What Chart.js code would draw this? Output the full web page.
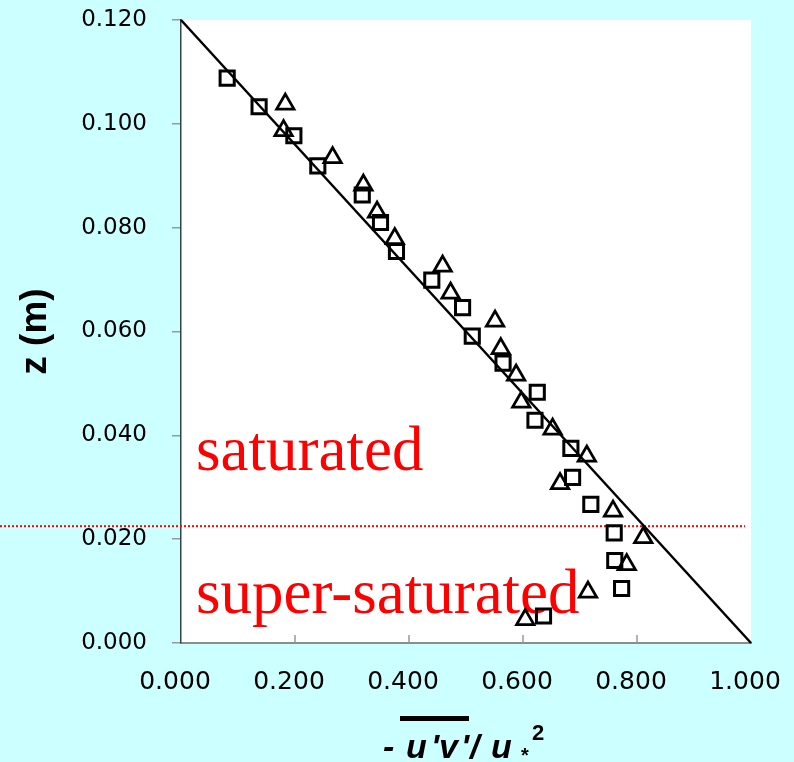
<!DOCTYPE html>
<html>
<head>
<meta charset="utf-8">
<script src="https://cdn.jsdelivr.net/npm/chart.js@4.4.1/dist/chart.umd.min.js"></script>
<style>
  body { margin: 0; background: #ccffff; }
  #wrap { width: 794px; height: 762px; position: relative; }
</style>
</head>
<body>
<div id="wrap"><canvas id="stress-chart"></canvas></div>
<script>
// squares
const squareX = [0.081, 0.137, 0.198, 0.240, 0.318, 0.350, 0.378, 0.440, 0.494, 0.511,
                 0.565, 0.625, 0.621, 0.684, 0.687, 0.719, 0.760, 0.761, 0.773, 0.636];
const squareZ = [0.1088, 0.1033, 0.0977, 0.0919, 0.0863, 0.0810, 0.0754, 0.0699, 0.0646, 0.0591,
                 0.0539, 0.0483, 0.0429, 0.0375, 0.0319, 0.0267, 0.0212, 0.0159, 0.0105, 0.0052];
// triangles
const triangleX = [0.183, 0.180, 0.266, 0.320, 0.344, 0.375, 0.459, 0.473, 0.551, 0.561,
                   0.588, 0.597, 0.652, 0.712, 0.665, 0.758, 0.811, 0.782, 0.714, 0.604];
const triangleZ = [0.1038, 0.0987, 0.0935, 0.0882, 0.0830, 0.0779, 0.0726, 0.0674, 0.0620, 0.0567,
                   0.0516, 0.0464, 0.0412, 0.0360, 0.0307, 0.0254, 0.0203, 0.0151, 0.0098, 0.0045];
// straight line
const lineX = [0, 1];
const lineZ = [0.12, 0];
// boundary between the two regions
const boundaryZ = 0.0225;
const upperLabel = 'saturated';
const lowerLabel = 'super-saturated';

const xTicks = [0, 0.2, 0.4, 0.6, 0.8, 1.0];

function toPoints(xs, zs) {
    return xs.map((x, i) => ({ x: x, y: zs[i] }));
}

const backgroundPlugin = {
    id: 'background',
    beforeDraw(chart) {
        const { ctx, chartArea } = chart;
        ctx.save();
        ctx.fillStyle = '#ccffff';
        ctx.fillRect(0, 0, chart.width, chart.height);
        ctx.fillStyle = '#ffffff';
        ctx.fillRect(chartArea.left, chartArea.top, chartArea.right - chartArea.left, chartArea.bottom - chartArea.top);
        ctx.restore();
    }
};

const overlayPlugin = {
    id: 'overlay',
    beforeDatasetsDraw(chart) {
        const { ctx, chartArea, scales } = chart;
        ctx.save();
        // inward tick marks on the x axis
        ctx.strokeStyle = '#999999';
        ctx.lineWidth = 1.5;
        xTicks.slice(1, -1).forEach(v => {
            const px = scales.x.getPixelForValue(v);
            ctx.beginPath();
            ctx.moveTo(px, chartArea.bottom);
            ctx.lineTo(px, chartArea.bottom - 8);
            ctx.stroke();
        });
        // region labels
        ctx.fillStyle = '#ff0000';
        ctx.font = '63px "Liberation Serif", "Times New Roman", serif';
        ctx.textAlign = 'left';
        ctx.textBaseline = 'alphabetic';
        ctx.fillText(upperLabel, chartArea.left + 15, 470);
        ctx.fillText(lowerLabel, chartArea.left + 15, 613);
        // dotted boundary line
        const py = scales.y.getPixelForValue(boundaryZ);
        ctx.strokeStyle = '#ff0000';
        ctx.lineWidth = 2;
        ctx.setLineDash([2, 2]);
        ctx.beginPath();
        ctx.moveTo(0, py);
        ctx.lineTo(chartArea.right - 6, py);
        ctx.stroke();
        ctx.restore();
    },
    afterDraw(chart) {
        const { ctx, chartArea } = chart;
        const cx = (chartArea.left + chartArea.right) / 2;
        const base = 758;
        ctx.save();
        ctx.fillStyle = '#000000';
        ctx.textBaseline = 'alphabetic';
        ctx.textAlign = 'left';
        ctx.font = 'italic bold 34px "Liberation Sans", Arial, sans-serif';
        const parts = [['-', -83], ['u', -60], ["'", -35], ['v', -27], ["'", -5], ['/', 4], ['u', 25]];
        parts.forEach(p => ctx.fillText(p[0], cx + p[1], base));
        // overline over u'v'
        ctx.fillRect(cx - 66, 716, 69, 5);
        ctx.font = 'bold 20px "Liberation Sans", Arial, sans-serif';
        ctx.fillText('*', cx + 55, base + 4);
        ctx.font = 'bold 22px "Liberation Sans", Arial, sans-serif';
        ctx.fillText('2', cx + 66, 740);
        ctx.restore();
    }
};

const ctx = document.getElementById('stress-chart').getContext('2d');

new Chart(ctx, {
    type: 'scatter',
    data: {
        datasets: [
            {
                label: 'fit',
                type: 'line',
                data: toPoints(lineX, lineZ),
                borderColor: '#000000',
                borderWidth: 2.5,
                pointRadius: 0,
                fill: false,
                tension: 0,
                clip: 4
            },
            {
                label: 'squares',
                data: toPoints(squareX, squareZ),
                pointStyle: 'rect',
                pointRadius: 10,
                borderColor: '#000000',
                backgroundColor: 'rgba(255,255,255,0)',
                borderWidth: 3
            },
            {
                label: 'triangles',
                data: toPoints(triangleX, triangleZ),
                pointStyle: 'triangle',
                pointRadius: 10,
                borderColor: '#000000',
                backgroundColor: 'rgba(255,255,255,0)',
                borderWidth: 2.8
            }
        ]
    },
    options: {
        responsive: true,
        maintainAspectRatio: false,
        animation: false,
        layout: { autoPadding: false, padding: { top: 20, right: 43, left: 0, bottom: 0 } },
        plugins: {
            legend: { display: false },
            tooltip: { enabled: false }
        },
        scales: {
            x: {
                type: 'linear',
                min: 0,
                max: 1,
                afterBuildTicks: scale => { scale.ticks = xTicks.map(v => ({ value: v })); },
                afterFit: scale => {
                    scale.height = 119;
                    scale.paddingLeft = 0;
                    scale.paddingRight = 0;
                },
                ticks: {
                    callback: v => v.toFixed(3),
                    color: '#000000',
                    font: { family: '"DejaVu Sans", sans-serif', size: 25 },
                    padding: 24,
                    labelOffset: -6,
                    maxRotation: 0
                },
                grid: { drawOnChartArea: false, drawTicks: false },
                border: { color: '#8c8c8c', width: 2 }
            },
            y: {
                type: 'linear',
                min: 0,
                max: 0.12,
                ticks: {
                    stepSize: 0.02,
                    callback: v => v.toFixed(3),
                    color: '#000000',
                    font: { family: '"DejaVu Sans", sans-serif', size: 23 },
                    padding: 25
                },
                afterFit: scale => {
                    scale.width = 181;
                    scale.paddingTop = 0;
                    scale.paddingBottom = 0;
                },
                grid: { drawOnChartArea: false, drawTicks: true, tickLength: 9, color: '#999999', lineWidth: 1.5 },
                border: { color: '#334444', width: 1.5 },
                title: {
                    display: true,
                    text: 'z (m)',
                    color: '#000000',
                    font: { family: '"Liberation Sans", Arial, sans-serif', size: 37, weight: 'bold' },
                    padding: { top: 14, bottom: 0 }
                }
            }
        }
    },
    plugins: [backgroundPlugin, overlayPlugin]
});
</script>
</body>
</html>
